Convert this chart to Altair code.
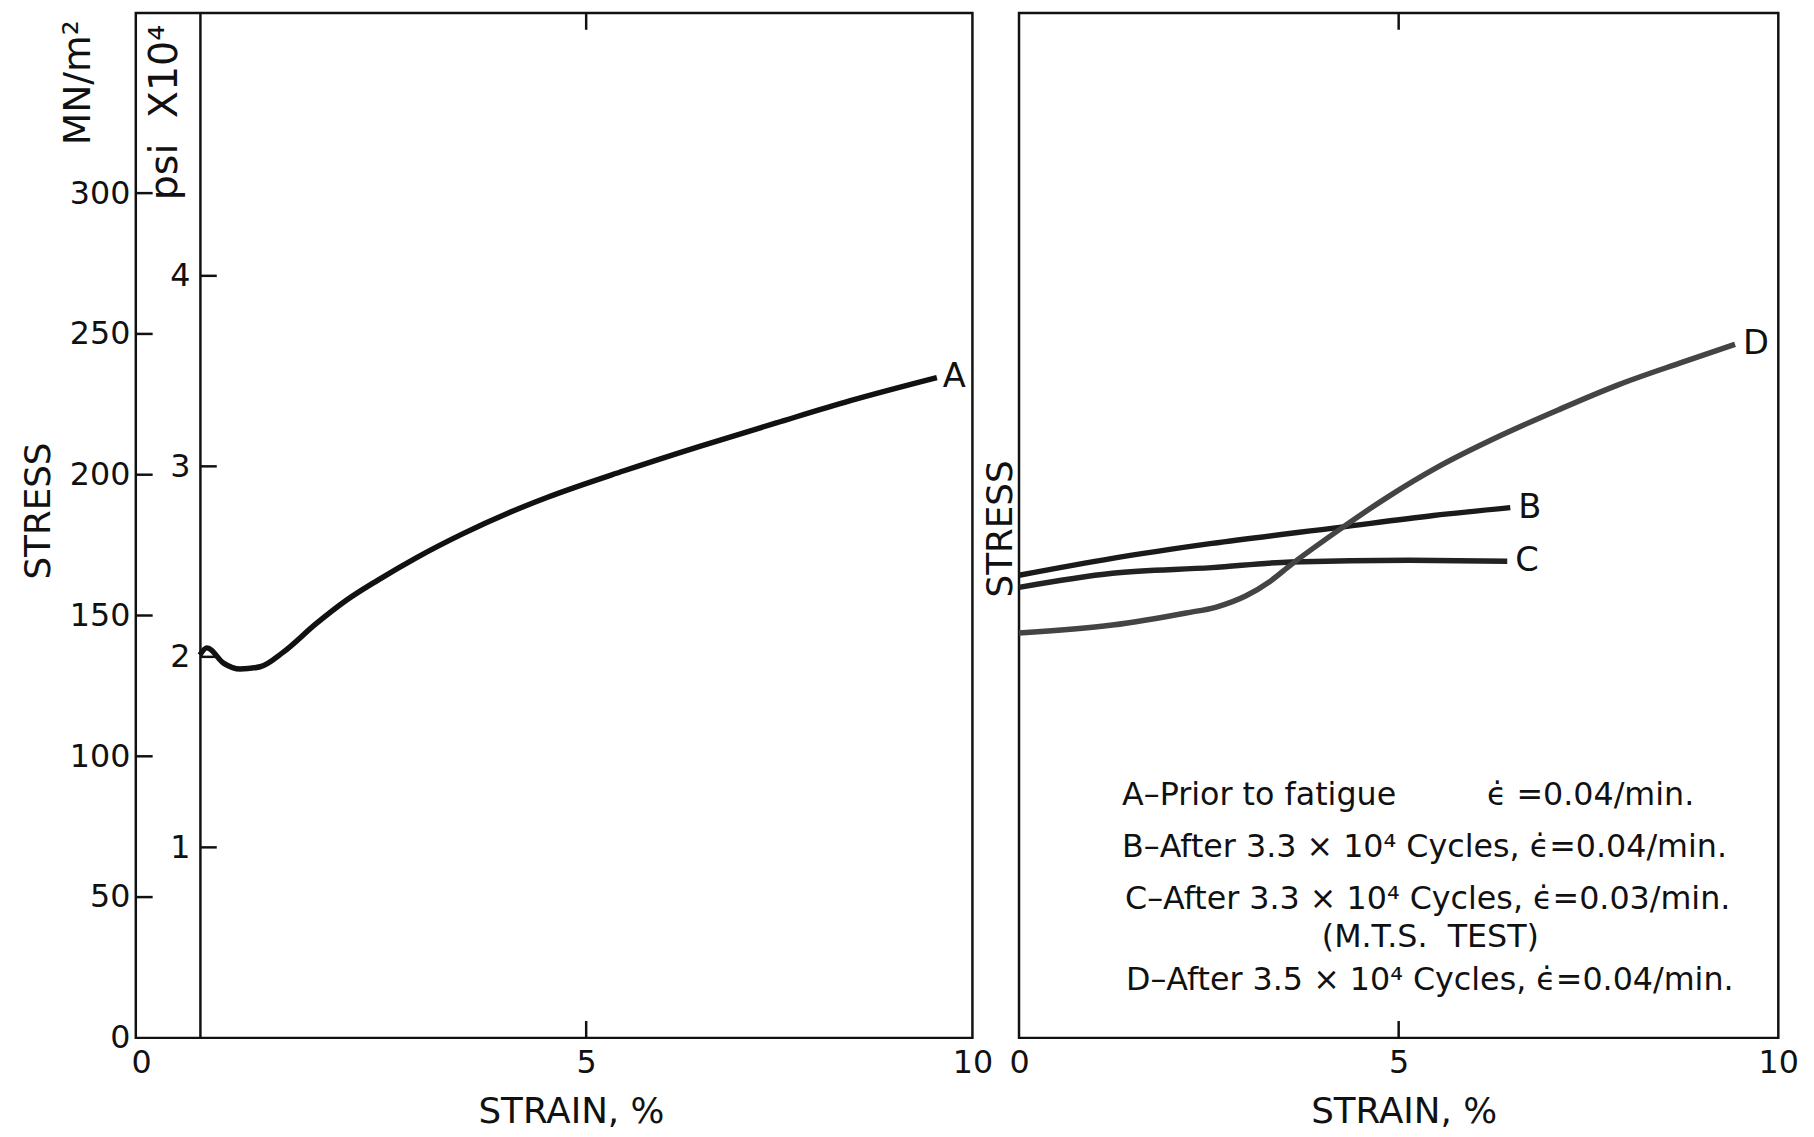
import altair as alt
import pandas as pd

# Curve A: stress-strain before fatigue (strain %, stress MN/m^2)
strain_a = [0.0, 0.09, 0.31, 0.52, 0.78, 1.08, 1.5, 1.9, 2.3, 2.8, 3.4, 4.0, 4.5, 5.49, 6.46, 7.45, 8.42, 9.54]
stress_a = [136, 138.5, 133, 131, 131.8, 137, 147, 155.5, 162.5, 170.5, 179, 186.5, 192, 201.4, 210, 218.3, 226.3, 234.5]

# Curves B, C, D: after cyclic loading
strain_b = [0.0, 1.23, 2.54, 4.22, 5.46, 6.47]
stress_b = [164.3, 170.3, 175.6, 181.3, 185.5, 188.3]
strain_c = [0.0, 1.23, 2.54, 3.58, 5.14, 6.43]
stress_c = [160, 165, 167, 169, 169.6, 169.3]
strain_d = [0.0, 1.23, 2.2, 2.6, 2.99, 3.3, 3.58, 4.22, 4.88, 5.5, 6.35, 7.1, 7.9, 8.72, 9.43]
stress_d = [143.8, 146.6, 150.9, 153, 157, 162, 168, 180.5, 192.5, 202.5, 214, 223, 232, 239.8, 246.3]
series_names = ["B", "C", "D"]

# Axis values
mpa_labels = [0, 50, 100, 150, 200, 250, 300]
mpa_ticks = [50, 100, 150, 200, 250, 300]
psi_ticks = [1, 2, 3, 4]
strain_ticks = [5]
left_strain_labels = [-0.76, 5, 10]
right_strain_labels = [0, 5, 10]

NB = "\u00a0"
notes = [
    "A\u2013Prior  to  fatigue" + NB * 9 + "\u03f5\u0307 =0.04/min.",
    "B\u2013After 3.3 \u00d7 10\u2074 Cycles, \u03f5\u0307=0.04/min.",
    "C\u2013After 3.3 \u00d7 10\u2074 Cycles, \u03f5\u0307=0.03/min.",
    "(M.T.S." + NB * 2 + "TEST)",
    "D\u2013After 3.5 \u00d7 10\u2074 Cycles, \u03f5\u0307=0.04/min.",
]

FONT = "DejaVu Sans"
STRESS_MAX = 364
PSI_MAX = 5.38
LEFT_MIN = -0.83
W_L, W_R, H = 844, 766, 1034
TICK = 17
INK = "#111111"

df_a = pd.DataFrame({"strain": strain_a, "stress": stress_a})
df_a_end = pd.DataFrame({"strain": [strain_a[-1]], "stress": [stress_a[-1]], "name": ["A"]})

rows = []
for name, xs, ys in zip(series_names, [strain_b, strain_c, strain_d], [stress_b, stress_c, stress_d]):
    for x, y in zip(xs, ys):
        rows.append({"series": name, "strain": x, "stress": y})
df_bcd = pd.DataFrame(rows)
df_bcd_end = df_bcd.groupby("series", as_index=False).last()

y_mpa = alt.Scale(domain=[0, STRESS_MAX], nice=False, zero=True)
x_left = alt.Scale(domain=[LEFT_MIN, 10], nice=False, zero=False)
x_right = alt.Scale(domain=[0, 10], nice=False)
psi_offset = -(0 - LEFT_MIN) * W_L / (10 - LEFT_MIN)

x_axis_common = dict(
    title="STRAIN, %", titleBaseline="middle", titleY=74,
    labelPadding=10, labelOverlap=False, labelBound=False, labelFlush=False,
    ticks=False, domain=False, grid=False,
)

# ---------- left panel ----------
line_a = alt.Chart(df_a).mark_line(color=INK, strokeWidth=5.5, interpolate="monotone").encode(
    x=alt.X("strain:Q", scale=x_left,
            axis=alt.Axis(values=left_strain_labels,
                          labelExpr="datum.value < 0 ? '0' : format(datum.value, 'd')",
                          titleX=439, **x_axis_common)),
    y=alt.Y("stress:Q", scale=y_mpa,
            axis=alt.Axis(orient="left", values=mpa_labels, format="d", title="STRESS",
                          titleAngle=270, titleX=-98, titleY=502, titleBaseline="middle",
                          titleAlign="center", labelPadding=6, ticks=False, domain=False,
                          grid=False, labelOverlap=False)),
)

label_a = alt.Chart(df_a_end).mark_text(font=FONT, fontSize=34, align="left", baseline="middle",
                                        dx=6, color=INK).encode(
    x=alt.X("strain:Q", scale=x_left),
    y=alt.Y("stress:Q", scale=y_mpa, axis=None),
    text="name:N",
)

mpa_tick_marks = alt.Chart(pd.DataFrame({"stress": mpa_ticks})).mark_rule(color=INK, strokeWidth=2.5).encode(
    y=alt.Y("stress:Q", scale=y_mpa,
            axis=alt.Axis(orient="left", title="MN/m\u00b2", labels=False, ticks=False, domain=False,
                          grid=False, titleAngle=270, titleX=-58, titleY=70, titleFontSize=38,
                          titleBaseline="middle", titleAlign="center")),
    x=alt.value(0),
    x2=alt.value(TICK),
)

psi_marks = alt.Chart(pd.DataFrame({"psi": psi_ticks})).mark_rule(color=INK, strokeWidth=2.5).encode(
    y=alt.Y("psi:Q", scale=alt.Scale(domain=[0, PSI_MAX], nice=False),
            axis=alt.Axis(orient="left", offset=psi_offset, values=psi_ticks, format="d",
                          title="psi" + NB * 2 + "X10\u2074", titleAngle=270, titleX=-36, titleY=100,
                          titleFontSize=40,
                          titleBaseline="middle", titleAlign="center",
                          labelPadding=10, ticks=False, domain=True, domainColor=INK,
                          domainWidth=2.5, grid=False)),
    x=alt.datum(0),
    x2=alt.datum(TICK * (10 - LEFT_MIN) / W_L),
)

x_ticks_left_bottom = alt.Chart(pd.DataFrame({"strain": strain_ticks})).mark_rule(color=INK, strokeWidth=2.5).encode(
    x=alt.X("strain:Q", scale=x_left), y=alt.value(H - TICK), y2=alt.value(H))
x_ticks_left_top = alt.Chart(pd.DataFrame({"strain": strain_ticks})).mark_rule(color=INK, strokeWidth=2.5).encode(
    x=alt.X("strain:Q", scale=x_left), y=alt.value(0), y2=alt.value(TICK))

left = alt.layer(
    line_a, label_a, mpa_tick_marks, psi_marks, x_ticks_left_bottom, x_ticks_left_top
).resolve_scale(y="independent").properties(width=W_L, height=H)

# ---------- right panel ----------
lines_bcd = alt.Chart(df_bcd).mark_line(strokeWidth=5.5, interpolate="monotone").encode(
    x=alt.X("strain:Q", scale=x_right,
            axis=alt.Axis(values=right_strain_labels, labelExpr="format(datum.value, 'd')",
                          titleX=388, **x_axis_common)),
    y=alt.Y("stress:Q", scale=y_mpa,
            axis=alt.Axis(orient="left", title="STRESS", labels=False, ticks=False, domain=False,
                          grid=False, titleAngle=270, titleX=-19, titleY=520,
                          titleBaseline="middle", titleAlign="center")),
    color=alt.Color("series:N", scale=alt.Scale(domain=series_names, range=["#1a1a1a", "#222222", "#444444"]),
                    legend=None),
    detail="series:N",
)

labels_bcd = alt.Chart(df_bcd_end).mark_text(font=FONT, fontSize=34, align="left", baseline="middle",
                                             dx=8, color=INK).encode(
    x=alt.X("strain:Q", scale=x_right),
    y=alt.Y("stress:Q", scale=y_mpa),
    text="series:N",
)

x_ticks_right_bottom = alt.Chart(pd.DataFrame({"strain": strain_ticks})).mark_rule(color=INK, strokeWidth=2.5).encode(
    x=alt.X("strain:Q", scale=x_right), y=alt.value(H - TICK), y2=alt.value(H))
x_ticks_right_top = alt.Chart(pd.DataFrame({"strain": strain_ticks})).mark_rule(color=INK, strokeWidth=2.5).encode(
    x=alt.X("strain:Q", scale=x_right), y=alt.value(0), y2=alt.value(TICK))

# notes block in lower right of the panel
note_x = [104, 104, 107, 415, 108]
note_y = [789, 842, 894, 932, 976]
note_align = ["left", "left", "left", "center", "left"]
note_layers = []
for txt, nx, ny, al in zip(notes, note_x, note_y, note_align):
    note_layers.append(
        alt.Chart(pd.DataFrame({"t": [txt]})).mark_text(
            font=FONT, fontSize=32, align=al, baseline="middle", color=INK
        ).encode(x=alt.value(nx), y=alt.value(ny), text="t:N")
    )

right = alt.layer(
    lines_bcd, labels_bcd, x_ticks_right_bottom, x_ticks_right_top, *note_layers
).properties(width=W_R, height=H)

chart = alt.hconcat(left, right, spacing=47, bounds="flush").properties(
    padding={"left": 19, "top": 5, "right": 14, "bottom": 5},
    background="white",
).configure_view(
    stroke=INK, strokeWidth=2.5
).configure_axis(
    labelFont=FONT, labelFontSize=32, labelColor=INK,
    titleFont=FONT, titleFontSize=36, titleFontWeight="normal", titleColor=INK,
    tickSize=0,
).configure_text(font=FONT)

chart.save("out.html", embed_options={"renderer": "svg", "actions": False})
